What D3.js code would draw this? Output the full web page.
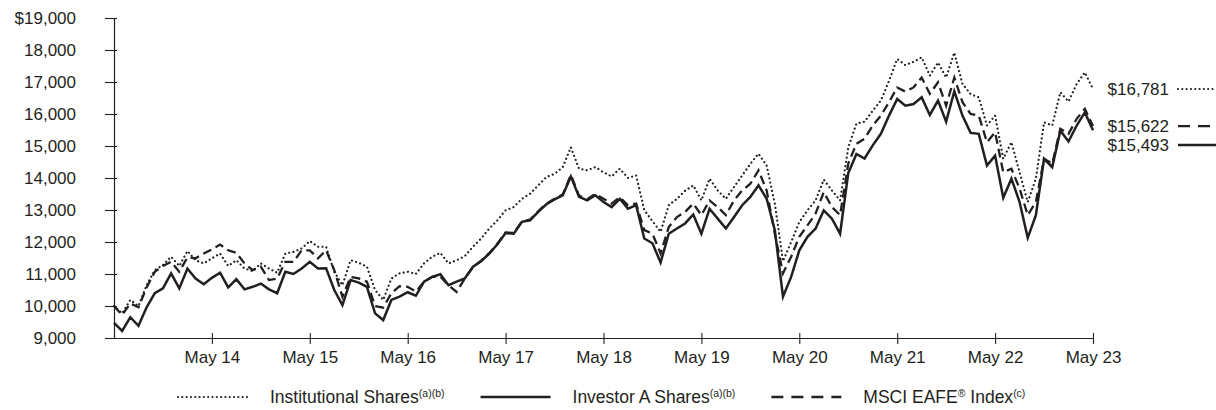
<!DOCTYPE html>
<html>
<head>
<meta charset="utf-8">
<script src="https://cdn.jsdelivr.net/npm/d3@7"></script>
<style>
  html, body { margin: 0; padding: 0; background: #fff; }
  svg text { font-family: "Liberation Sans", Arial, Helvetica, sans-serif; fill: #231f20; }
</style>
</head>
<body>
<svg id="chart" width="1216" height="410"></svg>
<script>
// Growth of a hypothetical $10,000 investment, month-end values May 2013 – May 2023
const xTickMonths = [12, 24, 36, 48, 60, 72, 84, 96, 108, 120];
const xTickLabels = ["May 14", "May 15", "May 16", "May 17", "May 18", "May 19", "May 20", "May 21", "May 22", "May 23"];
const yTicks = [9000, 10000, 11000, 12000, 13000, 14000, 15000, 16000, 17000, 18000, 19000];
const yTickLabels = ["9,000", "10,000", "11,000", "12,000", "13,000", "14,000", "15,000", "16,000", "17,000", "18,000", "$19,000"];

const institutional = [
  10000, 9770, 10190, 10000, 10650, 11120, 11280, 11540, 11250, 11720,
  11430, 11330, 11490, 11640, 11250, 11430, 11170, 11090, 11330, 11170,
  11040, 11640, 11690, 11800, 12030, 11850, 11850, 11070, 10650, 11430,
  11350, 11230, 10500, 10190, 10860, 11020, 11070, 11000, 11330, 11540,
  11660, 11330, 11430, 11560, 11850, 12110, 12420, 12680, 12990, 13090,
  13350, 13510, 13770, 14030, 14130, 14340, 14960, 14290, 14240, 14340,
  14180, 14050, 14290, 14000, 14080, 13000, 12650, 12320, 13150, 13350,
  13600, 13770, 13300, 13980, 13610, 13350, 13720, 14080, 14440, 14760,
  14390, 13200, 11400, 12000, 12620, 12990, 13300, 13950, 13610, 13300,
  14950, 15700, 15760, 16100, 16420, 17040, 17720, 17530, 17630, 17770,
  17200, 17610, 17140, 17920, 16940, 16620, 16520, 15640, 15950, 14600,
  15120, 14180, 13250, 13980, 15740, 15640, 16680, 16390, 16940, 17300,
  16781
];

const investorA = [
  9475, 9220, 9650, 9380, 9960, 10400, 10550, 11020, 10550, 11170,
  10860, 10680, 10880, 11040, 10580, 10840, 10520, 10600, 10700, 10520,
  10400, 11070, 11000, 11170, 11380, 11170, 11180, 10500, 10030, 10810,
  10730, 10600, 9770, 9560, 10190, 10290, 10430, 10320, 10760, 10910,
  10990, 10650, 10760, 10860, 11230, 11400, 11640, 11930, 12280, 12260,
  12630, 12680, 12940, 13180, 13330, 13460, 14050, 13410, 13300, 13460,
  13250, 13090, 13350, 13040, 13150, 12110, 11960, 11360, 12260, 12420,
  12580, 12860, 12260, 13040, 12730, 12420, 12780, 13150, 13410, 13770,
  13350, 12370, 10290, 10910, 11740, 12160, 12420, 12990, 12730, 12260,
  14150, 14750, 14610, 15020, 15380, 15950, 16470, 16260, 16310, 16520,
  15970, 16420, 15760, 16710, 15950, 15410, 15380, 14390, 14700, 13380,
  13980, 13250, 12130, 12840, 14600, 14340, 15480, 15140, 15640, 16050,
  15493
];

const msciEafe = [
  10000, 9720, 10080, 9960, 10580, 11070, 11250, 11380, 11070, 11520,
  11490, 11640, 11770, 11920, 11740, 11660, 11330, 11120, 11230, 10810,
  10860, 11380, 11380, 11740, 11740, 11490, 11740, 11120, 10290, 10910,
  10860, 10760, 10000, 9950, 10400, 10620, 10600, 10450, 10760, 10910,
  10920, 10650, 10440, 10860, 11210, 11420, 11650, 11950, 12300, 12280,
  12640, 12700, 12960, 13200, 13350, 13480, 14100, 13450, 13340, 13500,
  13350, 13200, 13400, 13150, 13200, 12370, 12260, 11640, 12470, 12780,
  12940, 13200, 12840, 13300, 13090, 12840, 13300, 13610, 13820, 14240,
  13610, 12260, 11020, 11540, 12160, 12520, 12890, 13560, 13090, 12840,
  14450, 15070, 15230, 15640, 15950, 16370, 16830, 16700, 16830, 17140,
  16630, 16990, 16260, 17140, 16370, 16000, 15950, 15120, 15430, 14180,
  14290, 13670, 12840, 13250, 14600, 14450, 15540, 15380, 15850, 16160,
  15622
];

const seriesNames = ["Institutional Shares", "Investor A Shares", "MSCI EAFE"];
const seriesNotes = ["(a)(b)", "(a)(b)", "(c)"];
const endValueLabels = ["$16,781", "$15,493", "$15,622"];

const ink = "#231f20";
const styles = [
  { width: 2.2, dash: "0.01,4.3", cap: "round", legendDash: "0.01,4.3" },
  { width: 2.5, dash: null, cap: "butt", legendDash: null },
  { width: 2.3, dash: "9,5", cap: "butt", legendDash: "12,8" }
];

const series = [
  { name: seriesNames[0], note: seriesNotes[0], values: institutional, label: endValueLabels[0], style: styles[0] },
  { name: seriesNames[1], note: seriesNotes[1], values: investorA, label: endValueLabels[1], style: styles[1] },
  { name: seriesNames[2], note: seriesNotes[2], values: msciEafe, label: endValueLabels[2], style: styles[2] }
];

const svg = d3.select("#chart");
const fontSize = 17;

const x = d3.scaleLinear().domain([0, 120]).range([114, 1093]);
const y = d3.scaleLinear().domain([9000, 19000]).range([338, 18]);

// Axes
const yAxis = d3.axisLeft(y)
  .tickValues(yTicks)
  .tickFormat((d, i) => yTickLabels[i])
  .tickSizeOuter(0);
const gy = svg.append("g").attr("transform", `translate(${x(0)},0)`).call(yAxis);
gy.select(".domain").attr("stroke", ink).attr("stroke-width", 1.2);
gy.selectAll(".tick line").attr("stroke", ink).attr("stroke-width", 1.1).attr("x1", 3).attr("x2", -9);
gy.selectAll(".tick text").attr("font-size", fontSize).attr("fill", ink).attr("x", -38).attr("dy", "0.35em")
  .style("font-family", "'Liberation Sans', Arial, sans-serif");

const xAxis = d3.axisBottom(x)
  .tickValues(xTickMonths)
  .tickFormat((d, i) => xTickLabels[i])
  .tickSizeOuter(0);
const gx = svg.append("g").attr("transform", `translate(0,${y(9000)})`).call(xAxis);
gx.select(".domain").attr("stroke", ink).attr("stroke-width", 1.2);
gx.selectAll(".tick line").attr("stroke", ink).attr("stroke-width", 1.1).attr("y1", -5).attr("y2", 6);
gx.selectAll(".tick text").attr("font-size", fontSize).attr("fill", ink).attr("y", 13)
  .style("font-family", "'Liberation Sans', Arial, sans-serif");

// Lines: index first, then the two share classes on top
const line = d3.line().x((d, i) => x(i)).y(d => y(d));
const drawOrder = [2, 0, 1];
drawOrder.forEach(k => {
  const s = series[k];
  svg.append("path")
    .datum(s.values)
    .attr("fill", "none")
    .attr("stroke", ink)
    .attr("stroke-width", s.style.width)
    .attr("stroke-linejoin", "miter")
    .attr("stroke-linecap", s.style.cap)
    .attr("stroke-dasharray", s.style.dash)
    .attr("d", line);
});

// Ending value labels, spread apart so they do not collide
const ends = series.map(s => ({ s, yy: y(s.values[s.values.length - 1]) }))
  .sort((a, b) => a.yy - b.yy);
for (let i = 1; i < ends.length; i++) {
  if (ends[i].yy - ends[i - 1].yy < 19) ends[i].yy = ends[i - 1].yy + 19;
}
ends.forEach(e => {
  svg.append("text")
    .attr("x", 1169).attr("y", e.yy).attr("dy", "0.35em")
    .attr("text-anchor", "end")
    .attr("font-size", fontSize)
    .text(e.s.label);
  svg.append("line")
    .attr("x1", 1178).attr("x2", 1216)
    .attr("y1", e.yy).attr("y2", e.yy)
    .attr("stroke", ink)
    .attr("stroke-width", e.s.style.width)
    .attr("stroke-linecap", e.s.style.cap)
    .attr("stroke-dasharray", e.s.style.legendDash);
});

// Legend: sample line + label, items laid out left to right
const legendY = 397;
const sampleLen = 70, sampleGap = 22, itemGap = 36;
let cursor = 178;
series.forEach((s, k) => {
  svg.append("line")
    .attr("x1", cursor).attr("x2", cursor + sampleLen)
    .attr("y1", legendY).attr("y2", legendY)
    .attr("stroke", ink)
    .attr("stroke-width", s.style.width)
    .attr("stroke-linecap", s.style.cap)
    .attr("stroke-dasharray", s.style.legendDash);
  const t = svg.append("text")
    .attr("x", cursor + sampleLen + sampleGap).attr("y", legendY).attr("dy", "0.35em")
    .attr("font-size", 17.5);
  t.append("tspan").text(s.name);
  if (k === 2) {
    t.append("tspan").attr("font-size", 10.5).attr("dy", "-0.6em").text("®");
    t.append("tspan").attr("font-size", 17.5).attr("dy", "0.36em").text(" Index");
  }
  t.append("tspan").attr("font-size", 10.5).attr("dy", "-0.6em").text(s.note);
  cursor += sampleLen + sampleGap + t.node().getComputedTextLength() + itemGap;
});
</script>
</body>
</html>
